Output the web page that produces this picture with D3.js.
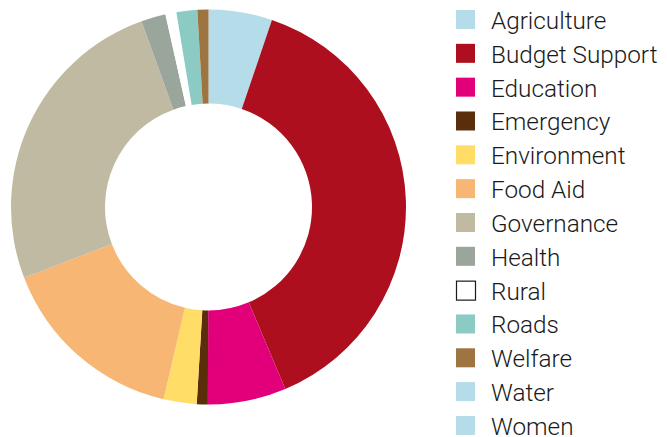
<!DOCTYPE html>
<html><head><meta charset="utf-8">
<script src="https://cdn.jsdelivr.net/npm/d3@7"></script>
<style>body{margin:0;background:#fff}svg{display:block}</style>
</head><body>
<script>
const categories = ["Agriculture","Budget Support","Education","Emergency","Environment","Food Aid","Governance","Health","Rural","Roads","Welfare","Water","Women"];
const values = [5.2, 38.4, 6.4, 0.9, 2.7, 15.5, 25.3, 2.0, 0.9, 1.7, 0.9, 0, 0];
const colors = ["#b5dce9","#ae0f1f","#e2007a","#5a2e0b","#ffdd66","#f7b673","#c1baa2","#9aa59b","#ffffff","#8bcbc4","#9e7441","#b5dce9","#b5dce9"];

const W = 667, H = 437;
const svg = d3.select("body").append("svg").attr("width", W).attr("height", H);
const cx = 208.5, cy = 207, rOuter = 197.5, rInner = 103.5;

const pie = d3.pie().sort(null).value(d => d.v);
const arc = d3.arc().innerRadius(rInner).outerRadius(rOuter);
const data = categories.map((c, i) => ({c, v: values[i], col: colors[i]}));
const g = svg.append("g").attr("transform", `translate(${cx},${cy})`);
g.selectAll("path").data(pie(data)).join("path")
  .attr("d", arc).attr("fill", d => d.data.col);

const y = d3.scaleBand().domain(categories).range([10, 10 + 33.83 * 13]);
const leg = svg.append("g");
const rows = leg.selectAll("g").data(data).join("g")
  .attr("transform", d => `translate(456,${y(d.c)})`);
rows.append("rect").attr("width", 19).attr("height", 19)
  .attr("x", d => d.c === "Rural" ? 0.5 : 0).attr("y", d => d.c === "Rural" ? 0.5 : 0)
  .attr("fill", d => d.col)
  .attr("stroke", d => d.c === "Rural" ? "#1a1a1a" : "none")
  .attr("stroke-width", 1.2);
rows.append("text").attr("x", 35).attr("y", 19)
  .attr("font-family", "Roboto, sans-serif").attr("font-weight", 300)
  .attr("font-size", 24.3).attr("fill", "#1a1a1a")
  .text(d => d.c);
</script>
</body></html>
